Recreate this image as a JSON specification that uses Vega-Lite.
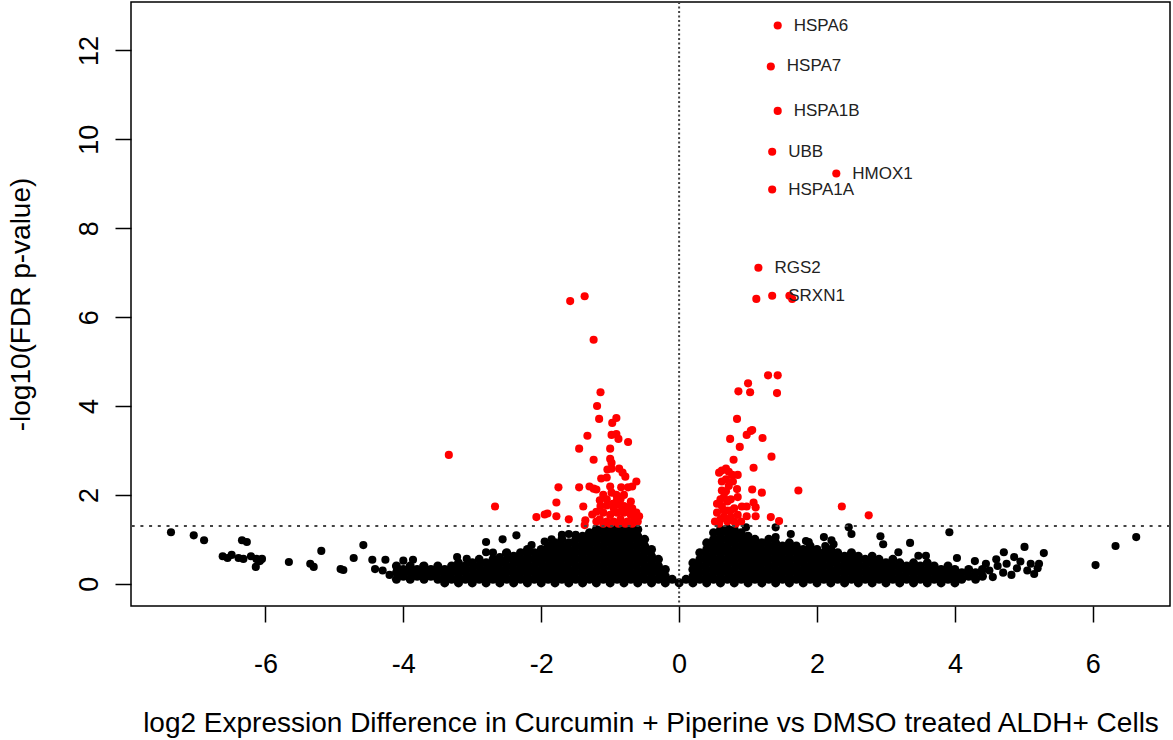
{
"$schema": "https://vega.github.io/schema/vega-lite/v6.json",
"width": 1039, "height": 604,
"autosize": {"type": "none"},
"padding": {"left": 131, "top": 2, "right": 3, "bottom": 134},
"background": "white",
"config": {
  "view": {"stroke": "#000", "strokeWidth": 1.5},
  "font": "Liberation Sans",
  "axis": {"grid": false, "domain": false, "tickSize": 16, "tickColor": "#000", "tickWidth": 1.5, "labelFontSize": 27, "labelColor": "#000", "titleFontSize": 28, "titleFontWeight": "normal", "titleColor": "#000", "labelFlush": false, "labelOverlap": false, "labelFont": "Liberation Sans", "titleFont": "Liberation Sans", "labelExpr": "datum.value + ''"}
},
"datasets": {
"body": [
{"x":-4.1,"y":0.1},{"x":-4.1,"y":0.25},{"x":-4.1,"y":0.4},
{"x":-4.0,"y":0.17},{"x":-4.0,"y":0.32},
{"x":-3.9,"y":0.1},{"x":-3.9,"y":0.25},{"x":-3.9,"y":0.4},
{"x":-3.8,"y":0.17},{"x":-3.8,"y":0.32},
{"x":-3.7,"y":0.1},{"x":-3.7,"y":0.25},{"x":-3.7,"y":0.4},
{"x":-3.6,"y":0.17},{"x":-3.6,"y":0.32},
{"x":-3.5,"y":0.1},{"x":-3.5,"y":0.25},{"x":-3.5,"y":0.4},
{"x":-3.4,"y":0.02},{"x":-3.4,"y":0.17},{"x":-3.4,"y":0.32},
{"x":-3.3,"y":0.1},{"x":-3.3,"y":0.25},{"x":-3.3,"y":0.4},
{"x":-3.2,"y":0.02},{"x":-3.2,"y":0.17},{"x":-3.2,"y":0.32},{"x":-3.2,"y":0.47},
{"x":-3.1,"y":0.1},{"x":-3.1,"y":0.25},{"x":-3.1,"y":0.4},
{"x":-3.0,"y":0.02},{"x":-3.0,"y":0.17},{"x":-3.0,"y":0.32},{"x":-3.0,"y":0.47},
{"x":-2.9,"y":0.1},{"x":-2.9,"y":0.25},{"x":-2.9,"y":0.4},{"x":-2.9,"y":0.55},
{"x":-2.8,"y":0.02},{"x":-2.8,"y":0.17},{"x":-2.8,"y":0.32},{"x":-2.8,"y":0.47},
{"x":-2.7,"y":0.1},{"x":-2.7,"y":0.25},{"x":-2.7,"y":0.4},{"x":-2.7,"y":0.55},
{"x":-2.6,"y":0.02},{"x":-2.6,"y":0.17},{"x":-2.6,"y":0.32},{"x":-2.6,"y":0.47},
{"x":-2.5,"y":0.1},{"x":-2.5,"y":0.25},{"x":-2.5,"y":0.4},{"x":-2.5,"y":0.55},{"x":-2.5,"y":0.7},
{"x":-2.4,"y":0.02},{"x":-2.4,"y":0.17},{"x":-2.4,"y":0.32},{"x":-2.4,"y":0.47},{"x":-2.4,"y":0.62},
{"x":-2.3,"y":0.1},{"x":-2.3,"y":0.25},{"x":-2.3,"y":0.4},{"x":-2.3,"y":0.55},{"x":-2.3,"y":0.7},
{"x":-2.2,"y":0.02},{"x":-2.2,"y":0.17},{"x":-2.2,"y":0.32},{"x":-2.2,"y":0.47},{"x":-2.2,"y":0.62},{"x":-2.2,"y":0.77},
{"x":-2.1,"y":0.1},{"x":-2.1,"y":0.25},{"x":-2.1,"y":0.4},{"x":-2.1,"y":0.55},{"x":-2.1,"y":0.7},
{"x":-2.0,"y":0.02},{"x":-2.0,"y":0.17},{"x":-2.0,"y":0.32},{"x":-2.0,"y":0.47},{"x":-2.0,"y":0.62},{"x":-2.0,"y":0.77},
{"x":-1.9,"y":0.1},{"x":-1.9,"y":0.25},{"x":-1.9,"y":0.4},{"x":-1.9,"y":0.55},{"x":-1.9,"y":0.7},{"x":-1.9,"y":0.85},
{"x":-1.8,"y":0.02},{"x":-1.8,"y":0.17},{"x":-1.8,"y":0.32},{"x":-1.8,"y":0.47},{"x":-1.8,"y":0.62},{"x":-1.8,"y":0.77},{"x":-1.8,"y":0.92},
{"x":-1.7,"y":0.1},{"x":-1.7,"y":0.25},{"x":-1.7,"y":0.4},{"x":-1.7,"y":0.55},{"x":-1.7,"y":0.7},{"x":-1.7,"y":0.85},{"x":-1.7,"y":1.0},
{"x":-1.6,"y":0.02},{"x":-1.6,"y":0.17},{"x":-1.6,"y":0.32},{"x":-1.6,"y":0.47},{"x":-1.6,"y":0.62},{"x":-1.6,"y":0.77},{"x":-1.6,"y":0.92},
{"x":-1.5,"y":0.1},{"x":-1.5,"y":0.25},{"x":-1.5,"y":0.4},{"x":-1.5,"y":0.55},{"x":-1.5,"y":0.7},{"x":-1.5,"y":0.85},{"x":-1.5,"y":1.0},
{"x":-1.4,"y":0.02},{"x":-1.4,"y":0.17},{"x":-1.4,"y":0.32},{"x":-1.4,"y":0.47},{"x":-1.4,"y":0.62},{"x":-1.4,"y":0.77},{"x":-1.4,"y":0.92},{"x":-1.4,"y":1.07},
{"x":-1.3,"y":0.1},{"x":-1.3,"y":0.25},{"x":-1.3,"y":0.4},{"x":-1.3,"y":0.55},{"x":-1.3,"y":0.7},{"x":-1.3,"y":0.85},{"x":-1.3,"y":1.0},{"x":-1.3,"y":1.15},
{"x":-1.2,"y":0.02},{"x":-1.2,"y":0.17},{"x":-1.2,"y":0.32},{"x":-1.2,"y":0.47},{"x":-1.2,"y":0.62},{"x":-1.2,"y":0.77},{"x":-1.2,"y":0.92},{"x":-1.2,"y":1.07},{"x":-1.2,"y":1.22},
{"x":-1.1,"y":0.1},{"x":-1.1,"y":0.25},{"x":-1.1,"y":0.4},{"x":-1.1,"y":0.55},{"x":-1.1,"y":0.7},{"x":-1.1,"y":0.85},{"x":-1.1,"y":1.0},{"x":-1.1,"y":1.15},{"x":-1.1,"y":1.24},
{"x":-1.0,"y":0.02},{"x":-1.0,"y":0.17},{"x":-1.0,"y":0.32},{"x":-1.0,"y":0.47},{"x":-1.0,"y":0.62},{"x":-1.0,"y":0.77},{"x":-1.0,"y":0.92},{"x":-1.0,"y":1.07},{"x":-1.0,"y":1.22},
{"x":-0.9,"y":0.1},{"x":-0.9,"y":0.25},{"x":-0.9,"y":0.4},{"x":-0.9,"y":0.55},{"x":-0.9,"y":0.7},{"x":-0.9,"y":0.85},{"x":-0.9,"y":1.0},{"x":-0.9,"y":1.15},{"x":-0.9,"y":1.24},
{"x":-0.8,"y":0.02},{"x":-0.8,"y":0.17},{"x":-0.8,"y":0.32},{"x":-0.8,"y":0.47},{"x":-0.8,"y":0.62},{"x":-0.8,"y":0.77},{"x":-0.8,"y":0.92},{"x":-0.8,"y":1.07},{"x":-0.8,"y":1.22},
{"x":-0.7,"y":0.1},{"x":-0.7,"y":0.25},{"x":-0.7,"y":0.4},{"x":-0.7,"y":0.55},{"x":-0.7,"y":0.7},{"x":-0.7,"y":0.85},{"x":-0.7,"y":1.0},{"x":-0.7,"y":1.15},{"x":-0.7,"y":1.24},
{"x":-0.6,"y":0.02},{"x":-0.6,"y":0.17},{"x":-0.6,"y":0.32},{"x":-0.6,"y":0.47},{"x":-0.6,"y":0.62},{"x":-0.6,"y":0.77},{"x":-0.6,"y":0.92},{"x":-0.6,"y":1.07},{"x":-0.6,"y":1.22},
{"x":-0.5,"y":0.1},{"x":-0.5,"y":0.25},{"x":-0.5,"y":0.4},{"x":-0.5,"y":0.55},{"x":-0.5,"y":0.7},{"x":-0.5,"y":0.85},{"x":-0.5,"y":1.0},
{"x":-0.4,"y":0.02},{"x":-0.4,"y":0.17},{"x":-0.4,"y":0.32},{"x":-0.4,"y":0.47},{"x":-0.4,"y":0.62},{"x":-0.4,"y":0.77},
{"x":-0.3,"y":0.1},{"x":-0.3,"y":0.25},{"x":-0.3,"y":0.4},{"x":-0.3,"y":0.55},
{"x":-0.2,"y":0.02},{"x":-0.2,"y":0.17},{"x":-0.2,"y":0.32},
{"x":-0.1,"y":0.1},
{"x":0.0,"y":0.02},
{"x":0.1,"y":0.1},
{"x":0.2,"y":0.02},{"x":0.2,"y":0.17},{"x":0.2,"y":0.32},{"x":0.2,"y":0.47},
{"x":0.3,"y":0.1},{"x":0.3,"y":0.25},{"x":0.3,"y":0.4},{"x":0.3,"y":0.55},{"x":0.3,"y":0.7},
{"x":0.4,"y":0.02},{"x":0.4,"y":0.17},{"x":0.4,"y":0.32},{"x":0.4,"y":0.47},{"x":0.4,"y":0.62},{"x":0.4,"y":0.77},{"x":0.4,"y":0.92},
{"x":0.5,"y":0.1},{"x":0.5,"y":0.25},{"x":0.5,"y":0.4},{"x":0.5,"y":0.55},{"x":0.5,"y":0.7},{"x":0.5,"y":0.85},{"x":0.5,"y":1.0},{"x":0.5,"y":1.15},
{"x":0.6,"y":0.02},{"x":0.6,"y":0.17},{"x":0.6,"y":0.32},{"x":0.6,"y":0.47},{"x":0.6,"y":0.62},{"x":0.6,"y":0.77},{"x":0.6,"y":0.92},{"x":0.6,"y":1.07},{"x":0.6,"y":1.22},
{"x":0.7,"y":0.1},{"x":0.7,"y":0.25},{"x":0.7,"y":0.4},{"x":0.7,"y":0.55},{"x":0.7,"y":0.7},{"x":0.7,"y":0.85},{"x":0.7,"y":1.0},{"x":0.7,"y":1.15},{"x":0.7,"y":1.24},
{"x":0.8,"y":0.02},{"x":0.8,"y":0.17},{"x":0.8,"y":0.32},{"x":0.8,"y":0.47},{"x":0.8,"y":0.62},{"x":0.8,"y":0.77},{"x":0.8,"y":0.92},{"x":0.8,"y":1.07},{"x":0.8,"y":1.22},
{"x":0.9,"y":0.1},{"x":0.9,"y":0.25},{"x":0.9,"y":0.4},{"x":0.9,"y":0.55},{"x":0.9,"y":0.7},{"x":0.9,"y":0.85},{"x":0.9,"y":1.0},{"x":0.9,"y":1.15},
{"x":1.0,"y":0.02},{"x":1.0,"y":0.17},{"x":1.0,"y":0.32},{"x":1.0,"y":0.47},{"x":1.0,"y":0.62},{"x":1.0,"y":0.77},{"x":1.0,"y":0.92},{"x":1.0,"y":1.07},
{"x":1.1,"y":0.1},{"x":1.1,"y":0.25},{"x":1.1,"y":0.4},{"x":1.1,"y":0.55},{"x":1.1,"y":0.7},{"x":1.1,"y":0.85},{"x":1.1,"y":1.0},
{"x":1.2,"y":0.02},{"x":1.2,"y":0.17},{"x":1.2,"y":0.32},{"x":1.2,"y":0.47},{"x":1.2,"y":0.62},{"x":1.2,"y":0.77},{"x":1.2,"y":0.92},
{"x":1.3,"y":0.1},{"x":1.3,"y":0.25},{"x":1.3,"y":0.4},{"x":1.3,"y":0.55},{"x":1.3,"y":0.7},{"x":1.3,"y":0.85},{"x":1.3,"y":1.0},
{"x":1.4,"y":0.02},{"x":1.4,"y":0.17},{"x":1.4,"y":0.32},{"x":1.4,"y":0.47},{"x":1.4,"y":0.62},{"x":1.4,"y":0.77},{"x":1.4,"y":0.92},
{"x":1.5,"y":0.1},{"x":1.5,"y":0.25},{"x":1.5,"y":0.4},{"x":1.5,"y":0.55},{"x":1.5,"y":0.7},{"x":1.5,"y":0.85},
{"x":1.6,"y":0.02},{"x":1.6,"y":0.17},{"x":1.6,"y":0.32},{"x":1.6,"y":0.47},{"x":1.6,"y":0.62},{"x":1.6,"y":0.77},{"x":1.6,"y":0.92},
{"x":1.7,"y":0.1},{"x":1.7,"y":0.25},{"x":1.7,"y":0.4},{"x":1.7,"y":0.55},{"x":1.7,"y":0.7},{"x":1.7,"y":0.85},
{"x":1.8,"y":0.02},{"x":1.8,"y":0.17},{"x":1.8,"y":0.32},{"x":1.8,"y":0.47},{"x":1.8,"y":0.62},{"x":1.8,"y":0.77},
{"x":1.9,"y":0.1},{"x":1.9,"y":0.25},{"x":1.9,"y":0.4},{"x":1.9,"y":0.55},{"x":1.9,"y":0.7},{"x":1.9,"y":0.85},
{"x":2.0,"y":0.02},{"x":2.0,"y":0.17},{"x":2.0,"y":0.32},{"x":2.0,"y":0.47},{"x":2.0,"y":0.62},{"x":2.0,"y":0.77},
{"x":2.1,"y":0.1},{"x":2.1,"y":0.25},{"x":2.1,"y":0.4},{"x":2.1,"y":0.55},{"x":2.1,"y":0.7},
{"x":2.2,"y":0.02},{"x":2.2,"y":0.17},{"x":2.2,"y":0.32},{"x":2.2,"y":0.47},{"x":2.2,"y":0.62},{"x":2.2,"y":0.77},
{"x":2.3,"y":0.1},{"x":2.3,"y":0.25},{"x":2.3,"y":0.4},{"x":2.3,"y":0.55},{"x":2.3,"y":0.7},
{"x":2.4,"y":0.02},{"x":2.4,"y":0.17},{"x":2.4,"y":0.32},{"x":2.4,"y":0.47},{"x":2.4,"y":0.62},
{"x":2.5,"y":0.1},{"x":2.5,"y":0.25},{"x":2.5,"y":0.4},{"x":2.5,"y":0.55},{"x":2.5,"y":0.7},
{"x":2.6,"y":0.02},{"x":2.6,"y":0.17},{"x":2.6,"y":0.32},{"x":2.6,"y":0.47},{"x":2.6,"y":0.62},
{"x":2.7,"y":0.1},{"x":2.7,"y":0.25},{"x":2.7,"y":0.4},{"x":2.7,"y":0.55},
{"x":2.8,"y":0.02},{"x":2.8,"y":0.17},{"x":2.8,"y":0.32},{"x":2.8,"y":0.47},{"x":2.8,"y":0.62},
{"x":2.9,"y":0.1},{"x":2.9,"y":0.25},{"x":2.9,"y":0.4},{"x":2.9,"y":0.55},
{"x":3.0,"y":0.02},{"x":3.0,"y":0.17},{"x":3.0,"y":0.32},{"x":3.0,"y":0.47},
{"x":3.1,"y":0.1},{"x":3.1,"y":0.25},{"x":3.1,"y":0.4},{"x":3.1,"y":0.55},
{"x":3.2,"y":0.02},{"x":3.2,"y":0.17},{"x":3.2,"y":0.32},{"x":3.2,"y":0.47},
{"x":3.3,"y":0.1},{"x":3.3,"y":0.25},{"x":3.3,"y":0.4},
{"x":3.4,"y":0.02},{"x":3.4,"y":0.17},{"x":3.4,"y":0.32},{"x":3.4,"y":0.47},
{"x":3.5,"y":0.1},{"x":3.5,"y":0.25},{"x":3.5,"y":0.4},
{"x":3.6,"y":0.02},{"x":3.6,"y":0.17},{"x":3.6,"y":0.32},{"x":3.6,"y":0.47},
{"x":3.7,"y":0.1},{"x":3.7,"y":0.25},{"x":3.7,"y":0.4},
{"x":3.8,"y":0.02},{"x":3.8,"y":0.17},{"x":3.8,"y":0.32},
{"x":3.9,"y":0.1},{"x":3.9,"y":0.25},{"x":3.9,"y":0.4},
{"x":4.0,"y":0.02},{"x":4.0,"y":0.17},{"x":4.0,"y":0.32},
{"x":4.1,"y":0.1},{"x":4.1,"y":0.25},
{"x":4.2,"y":0.17},{"x":4.2,"y":0.32},
{"x":4.3,"y":0.1},{"x":4.3,"y":0.25},
{"x":4.4,"y":0.17},{"x":4.4,"y":0.32}
],
"ns": [
{"x":-7.37,"y":1.16},{"x":-7.04,"y":1.09},{"x":-6.89,"y":0.98},{"x":-6.34,"y":0.98},{"x":-6.27,"y":0.94},
{"x":-6.62,"y":0.62},{"x":-6.55,"y":0.58},{"x":-6.49,"y":0.65},{"x":-6.39,"y":0.58},{"x":-6.32,"y":0.56},
{"x":-6.21,"y":0.62},{"x":-6.13,"y":0.56},{"x":-6.08,"y":0.51},{"x":-6.05,"y":0.56},{"x":-6.14,"y":0.38},
{"x":-5.66,"y":0.49},{"x":-5.35,"y":0.45},{"x":-5.3,"y":0.38},{"x":-5.19,"y":0.74},{"x":-4.91,"y":0.33},
{"x":-4.87,"y":0.31},{"x":-4.72,"y":0.58},{"x":-4.58,"y":0.87},{"x":-4.45,"y":0.54},{"x":-4.41,"y":0.33},
{"x":-4.26,"y":0.54},{"x":-4.3,"y":0.3},{"x":-4.2,"y":0.2},{"x":-4.09,"y":0.33},{"x":-4.0,"y":0.52},
{"x":-3.86,"y":0.54},{"x":-3.71,"y":0.4},{"x":-3.22,"y":0.6},{"x":-3.08,"y":0.56},{"x":-2.8,"y":0.94},
{"x":-2.8,"y":0.71},{"x":-2.56,"y":1.0},{"x":-2.51,"y":0.69},{"x":-2.36,"y":1.09},{"x":-2.14,"y":0.87},
{"x":-2.02,"y":0.71},{"x":-1.7,"y":1.1},{"x":-1.6,"y":1.12},{"x":-1.5,"y":1.1},{"x":-1.85,"y":1.0},
{"x":-1.95,"y":0.95},{"x":-2.6,"y":0.6},{"x":-2.7,"y":0.7},
{"x":0.97,"y":1.27},{"x":1.4,"y":1.27},{"x":1.4,"y":1.05},{"x":1.62,"y":1.12},{"x":1.84,"y":0.96},
{"x":1.88,"y":0.94},{"x":2.1,"y":1.05},{"x":2.21,"y":0.98},{"x":2.24,"y":0.89},{"x":2.12,"y":0.85},
{"x":2.46,"y":1.27},{"x":2.5,"y":1.12},{"x":2.92,"y":1.07},{"x":2.96,"y":0.89},{"x":3.35,"y":0.92},
{"x":3.92,"y":1.16},{"x":3.18,"y":0.71},{"x":3.47,"y":0.63},{"x":3.58,"y":0.63},{"x":4.03,"y":0.58},
{"x":4.29,"y":0.51},{"x":4.5,"y":0.3},{"x":4.55,"y":0.15},{"x":4.62,"y":0.4},{"x":4.7,"y":0.25},
{"x":4.75,"y":0.45},{"x":4.82,"y":0.2},{"x":4.9,"y":0.35},{"x":4.95,"y":0.5},{"x":5.05,"y":0.3},
{"x":5.1,"y":0.45},{"x":5.15,"y":0.22},{"x":5.2,"y":0.35},{"x":4.6,"y":0.55},{"x":4.45,"y":0.45},
{"x":5.01,"y":0.83},{"x":5.29,"y":0.69},{"x":4.71,"y":0.71},{"x":4.86,"y":0.6},{"x":5.22,"y":0.45},
{"x":6.04,"y":0.42},{"x":6.33,"y":0.85},{"x":6.63,"y":1.05}
],
"sig": [
{"x":-1.58,"y":6.36},{"x":-1.37,"y":6.47},{"x":-1.24,"y":5.49},{"x":-1.14,"y":4.31},{"x":-1.19,"y":4.0},
{"x":-1.16,"y":3.71},{"x":-0.91,"y":3.73},{"x":-0.97,"y":3.62},{"x":-1.33,"y":3.33},{"x":-0.98,"y":3.35},
{"x":-0.91,"y":3.37},{"x":-0.88,"y":3.26},{"x":-0.74,"y":3.19},{"x":-1.45,"y":3.04},{"x":-1.0,"y":3.04},
{"x":-3.34,"y":2.9},{"x":-1.24,"y":2.79},{"x":-1.0,"y":2.81},{"x":-0.98,"y":2.72},{"x":-1.04,"y":2.57},
{"x":-0.98,"y":2.59},{"x":-0.87,"y":2.59},{"x":-0.82,"y":2.5},{"x":-0.78,"y":2.41},{"x":-1.13,"y":2.37},
{"x":-1.05,"y":2.39},{"x":-0.62,"y":2.3},{"x":-1.75,"y":2.17},{"x":-1.45,"y":2.17},{"x":-1.3,"y":2.19},
{"x":-1.24,"y":2.14},{"x":-1.2,"y":2.12},{"x":-1.0,"y":2.19},{"x":-0.84,"y":2.17},{"x":-0.74,"y":2.17},
{"x":-0.68,"y":2.19},{"x":-0.91,"y":2.0},{"x":-0.9,"y":1.9},{"x":-2.67,"y":1.74},{"x":-1.78,"y":1.83},
{"x":-1.39,"y":1.74},{"x":-1.14,"y":1.75},{"x":-1.05,"y":1.76},{"x":-0.96,"y":1.8},{"x":-0.87,"y":1.78},
{"x":-0.8,"y":1.75},{"x":-0.74,"y":1.72},{"x":-2.07,"y":1.5},{"x":-1.95,"y":1.56},{"x":-1.91,"y":1.58},
{"x":-1.78,"y":1.52},{"x":-1.6,"y":1.45},{"x":-1.36,"y":1.43},{"x":-1.37,"y":1.32},{"x":-1.26,"y":1.56},
{"x":-1.15,"y":1.45},{"x":-1.1,"y":1.6},{"x":-1.05,"y":1.4},{"x":-1.0,"y":1.55},{"x":-0.95,"y":1.4},
{"x":-0.9,"y":1.6},{"x":-0.85,"y":1.45},{"x":-0.8,"y":1.6},{"x":-0.75,"y":1.4},{"x":-0.7,"y":1.55},
{"x":-0.65,"y":1.45},{"x":-0.6,"y":1.4},{"x":-0.62,"y":1.6},{"x":-0.68,"y":1.7},{"x":-0.95,"y":1.7},
{"x":-1.05,"y":1.9},{"x":-0.85,"y":1.9},{"x":-0.8,"y":2.0},{"x":-0.7,"y":1.85},{"x":-1.2,"y":1.4},
{"x":-0.88,"y":1.35},{"x":-0.78,"y":1.35},{"x":-1.0,"y":1.35},{"x":-1.1,"y":1.35},{"x":-0.68,"y":1.35},
{"x":-0.98,"y":2.05},{"x":-1.1,"y":2.0},{"x":-0.58,"y":1.52},{"x":-1.2,"y":1.62},{"x":-0.75,"y":1.62},
{"x":-0.85,"y":1.62},{"x":-1.15,"y":1.88},
{"x":1.43,"y":12.56},{"x":1.33,"y":11.64},{"x":1.43,"y":10.64},{"x":1.35,"y":9.72},{"x":2.28,"y":9.23},
{"x":1.35,"y":8.87},{"x":1.15,"y":7.11},{"x":1.12,"y":6.41},{"x":1.35,"y":6.48},{"x":1.6,"y":6.48},
{"x":1.64,"y":6.41},{"x":1.29,"y":4.69},{"x":1.43,"y":4.69},{"x":1.0,"y":4.51},{"x":0.86,"y":4.33},
{"x":1.03,"y":4.31},{"x":1.42,"y":4.29},{"x":0.84,"y":3.71},{"x":1.06,"y":3.46},{"x":1.04,"y":3.44},
{"x":0.98,"y":3.35},{"x":1.21,"y":3.28},{"x":0.74,"y":3.26},{"x":0.88,"y":3.08},{"x":1.34,"y":2.86},
{"x":0.79,"y":2.79},{"x":0.68,"y":2.59},{"x":0.72,"y":2.52},{"x":1.08,"y":2.61},{"x":0.58,"y":2.5},
{"x":0.77,"y":2.45},{"x":0.62,"y":2.55},{"x":1.73,"y":2.1},{"x":1.06,"y":2.12},{"x":1.2,"y":2.05},
{"x":0.62,"y":2.1},{"x":0.68,"y":2.08},{"x":0.72,"y":2.2},{"x":0.84,"y":2.13},{"x":0.65,"y":1.95},
{"x":0.75,"y":1.9},{"x":0.7,"y":1.85},{"x":2.36,"y":1.74},{"x":2.75,"y":1.54},{"x":0.91,"y":1.74},
{"x":0.98,"y":1.74},{"x":1.08,"y":1.83},{"x":1.11,"y":1.72},{"x":0.98,"y":1.52},{"x":1.11,"y":1.52},
{"x":1.33,"y":1.5},{"x":1.45,"y":1.41},{"x":0.52,"y":1.4},{"x":0.55,"y":1.6},{"x":0.6,"y":1.45},
{"x":0.62,"y":1.75},{"x":0.7,"y":1.4},{"x":0.7,"y":1.65},{"x":0.75,"y":1.5},{"x":0.8,"y":1.4},
{"x":0.8,"y":1.7},{"x":0.85,"y":1.55},{"x":0.85,"y":1.95},{"x":0.58,"y":1.35},{"x":0.65,"y":1.5},
{"x":0.78,"y":2.3},{"x":0.68,"y":2.35},{"x":0.82,"y":1.35},{"x":0.9,"y":1.4},{"x":0.6,"y":1.9},
{"x":0.55,"y":1.8},{"x":0.62,"y":2.3},{"x":0.85,"y":2.45},{"x":0.75,"y":1.65},{"x":0.65,"y":1.65}
],
"lab": [
{"g":"HSPA6","x":1.43,"y":12.56},{"g":"HSPA7","x":1.33,"y":11.64},{"g":"HSPA1B","x":1.43,"y":10.64},
{"g":"UBB","x":1.35,"y":9.72},{"g":"HMOX1","x":2.28,"y":9.23},{"g":"HSPA1A","x":1.35,"y":8.87},
{"g":"RGS2","x":1.15,"y":7.11},{"g":"SRXN1","x":1.35,"y":6.48}
],
"hl": [{"y":1.3}],
"vl": [{"x":0}]
},
"layer": [
{"data": {"name": "body"}, "mark": {"type": "circle", "size": 82, "opacity": 1, "color": "#000"},
 "encoding": {
  "x": {"field": "x", "type": "quantitative", "scale": {"domain": [-7.95, 7.12], "nice": false, "zero": false},
        "axis": {"title": "log2 Expression Difference in Curcumin + Piperine vs DMSO treated ALDH+ Cells", "values": [-6,-4,-2,0,2,4,6], "labelPadding": 29, "titlePadding": 32}},
  "y": {"field": "y", "type": "quantitative", "scale": {"domain": [-0.5, 13.09], "nice": false, "zero": false},
        "axis": {"title": "-log10(FDR p-value)", "values": [0,2,4,6,8,10,12], "labelAngle": 270, "labelAlign": "center", "labelBaseline": "bottom", "labelPadding": 12, "titlePadding": 40}}
 }},
{"data": {"name": "ns"}, "mark": {"type": "circle", "size": 66, "opacity": 1, "color": "#000"},
 "encoding": {"x": {"field": "x", "type": "quantitative"}, "y": {"field": "y", "type": "quantitative"}}},
{"data": {"name": "sig"}, "mark": {"type": "circle", "size": 66, "opacity": 1, "color": "#ff0000"},
 "encoding": {"x": {"field": "x", "type": "quantitative"}, "y": {"field": "y", "type": "quantitative"}}},
{"data": {"name": "hl"}, "mark": {"type": "rule", "strokeDash": [3, 5.7], "color": "#444", "strokeWidth": 2},
 "encoding": {"y": {"field": "y", "type": "quantitative"}}},
{"data": {"name": "vl"}, "mark": {"type": "rule", "strokeDash": [2, 2.5], "color": "#444", "strokeWidth": 2},
 "encoding": {"x": {"field": "x", "type": "quantitative"}}},
{"data": {"name": "lab"}, "mark": {"type": "text", "align": "left", "baseline": "middle", "dx": 16, "fontSize": 17, "font": "Liberation Sans", "color": "#222"},
 "encoding": {"x": {"field": "x", "type": "quantitative"}, "y": {"field": "y", "type": "quantitative"}, "text": {"field": "g"}}}
]
}
